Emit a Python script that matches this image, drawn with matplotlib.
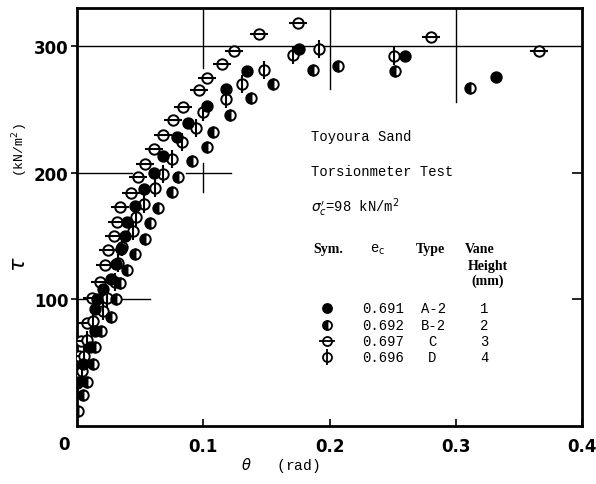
import matplotlib
matplotlib.use('Agg')
import matplotlib.pyplot as plt

# ---- data: theta (rad), tau (kN/m2) ----
theta_a = [0.001, 0.005, 0.010, 0.014, 0.014, 0.016, 0.021, 0.027, 0.031, 0.035, 0.038, 0.040,
           0.046, 0.053, 0.061, 0.068, 0.079, 0.088, 0.103, 0.118, 0.135, 0.176, 0.260, 0.332]
tau_a = [35, 49, 62, 75, 92, 100, 108, 116, 128, 140, 150, 161,
         174, 187, 200, 213, 228, 239, 253, 266, 280, 298, 292, 276]

theta_b = [0.001, 0.005, 0.008, 0.013, 0.014, 0.019, 0.027, 0.031, 0.034, 0.040, 0.046, 0.054, 0.058,
           0.064, 0.075, 0.080, 0.091, 0.103, 0.108, 0.121, 0.1375, 0.155, 0.187, 0.207, 0.252, 0.311]
tau_b = [12, 24, 35, 49, 62, 75, 86, 100, 113, 123, 136, 148, 160,
         172, 185, 197, 209, 220, 232, 246, 259, 270, 281, 284, 280, 267]

theta_c = [0.000, 0.001, 0.002, 0.003, 0.008, 0.012, 0.018, 0.022, 0.025, 0.029, 0.032, 0.034,
           0.043, 0.048, 0.054, 0.061, 0.068, 0.076, 0.084, 0.097, 0.103, 0.115, 0.124, 0.144,
           0.175, 0.280, 0.366]
tau_c = [34, 41, 55, 67, 81, 101, 114, 127, 139, 150, 161, 173,
         184, 197, 207, 219, 230, 242, 252, 265, 275, 286, 296, 310,
         318, 307, 296]

theta_d = [0.004, 0.006, 0.008, 0.013, 0.021, 0.0235, 0.030, 0.0325, 0.036, 0.0445, 0.047, 0.053,
           0.062, 0.068, 0.075, 0.083, 0.094, 0.100, 0.118, 0.131, 0.148, 0.171, 0.192, 0.251]
tau_d = [43, 55, 68, 83, 91, 101, 114, 129, 141, 154, 165, 175,
         188, 199, 211, 224, 235, 248, 258, 270, 281, 293, 298, 292]

sym_rows = [('0.691', 'A-2', '1'), ('0.692', 'B-2', '2'), ('0.697', 'C', '3'), ('0.696', 'D', '4')]

mono = 'Liberation Mono'
serif = 'Liberation Serif'

fig = plt.figure(figsize=(5.96, 4.85), dpi=100)
ax = fig.add_axes([0.129, 0.12, 0.848, 0.861])
ax.set_xlim(0, 0.4)
ax.set_ylim(0, 330)

# reference lines
lk = dict(color='black', lw=1.0, zorder=1)
ax.plot([0, 0.4], [300, 300], **lk)
ax.plot([0, 0.044], [200, 200], **lk)
ax.plot([0.086, 0.122], [200, 200], **lk)
ax.plot([0.1, 0.1], [185, 208], **lk)
ax.plot([0, 0.058], [100, 100], **lk)
ax.plot([0.1, 0.1], [283, 330], **lk)
ax.plot([0.2, 0.2], [266, 330], **lk)
ax.plot([0.3, 0.3], [256, 330], **lk)
# short inward ticks on the right edge
ax.hlines([100, 200], 0.392, 0.4, color='black', lw=1.2)

ms = 7.5
mew = 1.4
ax.plot(theta_a, tau_a, 'o', ms=ms, mfc='black', mec='black', mew=mew, zorder=4)
ax.plot(theta_b, tau_b, 'o', ms=ms, fillstyle='left', mfc='black', mfcalt='white',
        mec='black', mew=mew, zorder=4)
ax.plot(theta_c, tau_c, 'o', ms=ms, mfc='white', mec='black', mew=mew, zorder=3)
ax.plot(theta_c, tau_c, '_', ms=12.5, mec='black', mew=1.5, zorder=3)
ax.plot(theta_d, tau_d, 'o', ms=ms, mfc='white', mec='black', mew=mew, zorder=3)
ax.plot(theta_d, tau_d, '|', ms=13, mec='black', mew=1.5, zorder=3)

for s in ax.spines.values():
    s.set_linewidth(2.0)

ax.set_xticks([0.1, 0.2, 0.3, 0.4])
ax.set_xticklabels(['0.1', '0.2', '0.3', '0.4'])
ax.set_yticks([100, 200, 300])
ax.tick_params(axis='x', direction='in', length=5, width=1.2, pad=8, labelsize=12)
ax.tick_params(axis='y', direction='out', length=4, width=1.2, pad=2, labelsize=12)
for lab in ax.get_xticklabels() + ax.get_yticklabels():
    lab.set_fontweight('bold')
ax.text(-0.01, -7, '0', ha='center', va='top', fontsize=12, fontweight='bold')

fig.text(0.405, 0.04, r'$\theta$   (rad)', family=mono, fontsize=10.5, ha='left', va='center')
fig.text(0.032, 0.455, r'$\tau$', fontsize=16, rotation=90, ha='center', va='center')
fig.text(0.034, 0.69, r'(kN/m$^2$)', family=mono, fontsize=9.5, rotation=90,
         ha='center', va='center')

# annotation block
ax.text(0.185, 229, 'Toyoura Sand', family=mono, fontsize=10, va='center')
ax.text(0.185, 201, 'Torsionmeter Test', family=mono, fontsize=10, va='center')
ax.text(0.185, 173, r"$\sigma_c'$=98 kN/m$^2$", family=mono, fontsize=10, va='center')

ax.text(0.187, 140, 'Sym.', family=serif, fontsize=10, fontweight='bold', va='center')
ax.text(0.232, 140, r'e$_\mathrm{c}$', family=mono, fontsize=10, va='center')
ax.text(0.268, 140, 'Type', family=serif, fontsize=10, fontweight='bold', va='center')
ax.text(0.307, 140, 'Vane', family=serif, fontsize=10, fontweight='bold', va='center')
ax.text(0.309, 127, 'Height', family=serif, fontsize=10, fontweight='bold', va='center')
ax.text(0.312, 115, '(mm)', family=serif, fontsize=10, fontweight='bold', va='center')

row_tau = [93, 80, 67, 54]
sym_kw = [dict(marker='o', mfc='black'),
          dict(marker='o', fillstyle='left', mfc='black', mfcalt='white'),
          dict(marker='o', mfc='white'),
          dict(marker='o', mfc='white')]
for i, (ec, typ, h) in enumerate(sym_rows):
    yy = row_tau[i]
    ax.plot([0.198], [yy], ms=6.5, mec='black', mew=1.3, ls='none', **sym_kw[i])
    if i == 2:
        ax.plot([0.198], [yy], '_', ms=11, mec='black', mew=1.3)
    if i == 3:
        ax.plot([0.198], [yy], '|', ms=11, mec='black', mew=1.3)
    ax.text(0.226, yy, ec, family=mono, fontsize=10, va='center')
    ax.text(0.272 if len(typ) > 1 else 0.278, yy, typ, family=mono, fontsize=10, va='center')
    ax.text(0.319, yy, h, family=mono, fontsize=10, va='center')

fig.savefig('out.png', dpi=100)
